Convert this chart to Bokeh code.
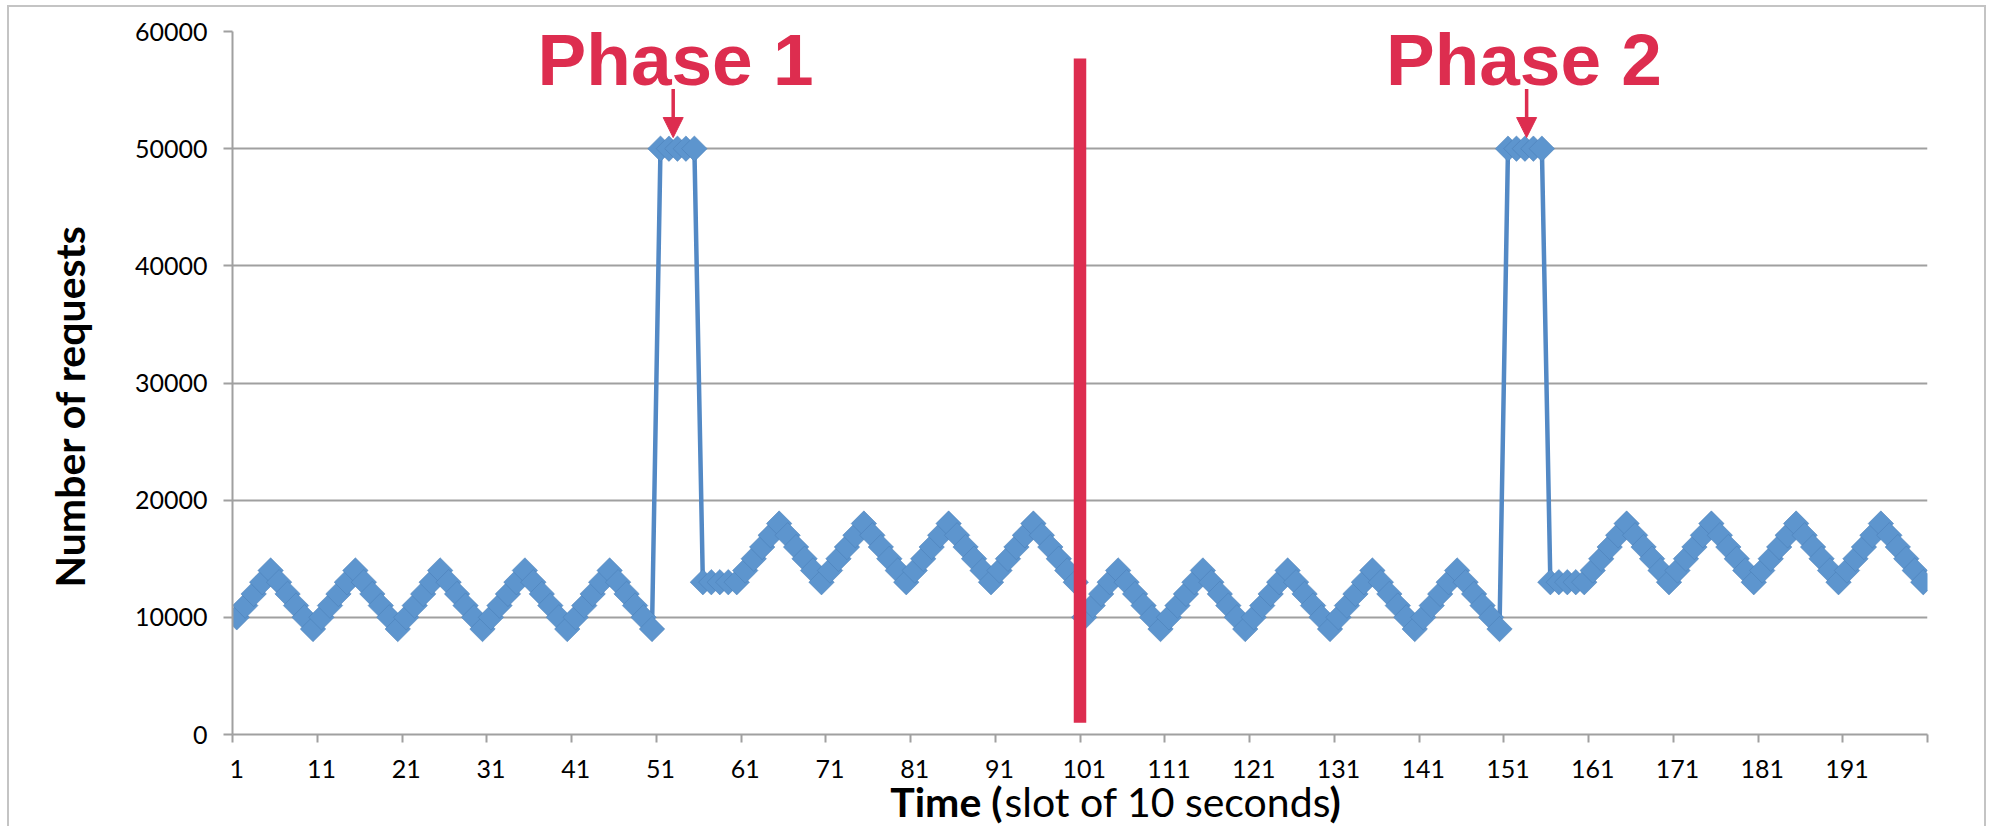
import numpy as np
from bokeh.plotting import figure
from bokeh.layouts import column
from bokeh.models import (Range1d, FixedTicker, Label, Arrow, NormalHead,
                          ColumnDataSource, Title)
from bokeh.embed import file_html
from bokeh.resources import INLINE

# ---------------- data ----------------
slots = list(range(1, 201))
requests = [
    10000, 11000, 12000, 13000, 14000, 13000, 12000, 11000, 10000, 9000,    # 1-10
    10000, 11000, 12000, 13000, 14000, 13000, 12000, 11000, 10000, 9000,    # 11-20
    10000, 11000, 12000, 13000, 14000, 13000, 12000, 11000, 10000, 9000,    # 21-30
    10000, 11000, 12000, 13000, 14000, 13000, 12000, 11000, 10000, 9000,    # 31-40
    10000, 11000, 12000, 13000, 14000, 13000, 12000, 11000, 10000, 9000,    # 41-50
    50000, 50000, 50000, 50000, 50000, 13000, 13000, 13000, 13000, 13000,   # 51-60
    14000, 15000, 16000, 17000, 18000, 17000, 16000, 15000, 14000, 13000,   # 61-70
    14000, 15000, 16000, 17000, 18000, 17000, 16000, 15000, 14000, 13000,   # 71-80
    14000, 15000, 16000, 17000, 18000, 17000, 16000, 15000, 14000, 13000,   # 81-90
    14000, 15000, 16000, 17000, 18000, 17000, 16000, 15000, 14000, 13000,   # 91-100
    10000, 11000, 12000, 13000, 14000, 13000, 12000, 11000, 10000, 9000,    # 101-110
    10000, 11000, 12000, 13000, 14000, 13000, 12000, 11000, 10000, 9000,    # 111-120
    10000, 11000, 12000, 13000, 14000, 13000, 12000, 11000, 10000, 9000,    # 121-130
    10000, 11000, 12000, 13000, 14000, 13000, 12000, 11000, 10000, 9000,    # 131-140
    10000, 11000, 12000, 13000, 14000, 13000, 12000, 11000, 10000, 9000,    # 141-150
    50000, 50000, 50000, 50000, 50000, 13000, 13000, 13000, 13000, 13000,   # 151-160
    14000, 15000, 16000, 17000, 18000, 17000, 16000, 15000, 14000, 13000,   # 161-170
    14000, 15000, 16000, 17000, 18000, 17000, 16000, 15000, 14000, 13000,   # 171-180
    14000, 15000, 16000, 17000, 18000, 17000, 16000, 15000, 14000, 13000,   # 181-190
    14000, 15000, 16000, 17000, 18000, 17000, 16000, 15000, 14000, 13000,   # 191-200
]

x_tick_slots = [1, 11, 21, 31, 41, 51, 61, 71, 81, 91,
                101, 111, 121, 131, 141, 151, 161, 171, 181, 191]
x_tick_labels = ["1", "11", "21", "31", "41", "51", "61", "71", "81", "91",
                 "101", "111", "121", "131", "141", "151", "161", "171", "181", "191"]
x_tick_marks = [0.5, 10.5, 20.5, 30.5, 40.5, 50.5, 60.5, 70.5, 80.5, 90.5, 100.5,
                110.5, 120.5, 130.5, 140.5, 150.5, 160.5, 170.5, 180.5, 190.5, 200.5]
y_ticks = [0, 10000, 20000, 30000, 40000, 50000, 60000]
y_tick_labels = ["0", "10000", "20000", "30000", "40000", "50000", "60000"]

phase_names = ["Phase 1", "Phase 2"]
phase_arrow_slots = [52.5, 153.2]

divider_slot = 100.5
divider_bottom = 1000
divider_top = 57700

y_title = "Number of requests"
x_title_parts = ["Time (", "slot of 10 seconds", ")"]

# ---------------- styles ----------------
BLUE_LINE = "#5389c5"
BLUE_MARK = "#5d95ce"
RED = "#dd2d4f"
GRID = "#a0a0a0"
FONT = "Lato"
W = 1975

p = figure(width=W, height=775, output_backend="svg", toolbar_location=None,
           x_range=Range1d(0.5, 200.5), y_range=Range1d(0, 60000),
           min_border_left=223, min_border_right=57, min_border_top=24,
           min_border_bottom=48)
p.outline_line_color = None
p.background_fill_color = "white"
p.border_fill_color = "white"

# x axis: labels centred on categories, tick marks between categories
xa = p.xaxis[0]
xa.ticker = FixedTicker(ticks=x_tick_slots, minor_ticks=x_tick_marks)
xa.major_label_overrides = {s: l for s, l in zip(x_tick_slots, x_tick_labels)}
xa.major_tick_out = 0
xa.major_tick_in = 0
xa.minor_tick_out = 8
xa.minor_tick_in = 0
xa.minor_tick_line_color = GRID
xa.minor_tick_line_width = 2
xa.axis_line_color = GRID
xa.axis_line_width = 2
xa.major_label_standoff = 17
xa.major_label_text_font = FONT
xa.major_label_text_font_size = "25px"
xa.major_label_text_color = "black"

ya = p.yaxis[0]
ya.ticker = FixedTicker(ticks=y_ticks)
ya.major_label_overrides = {t: l for t, l in zip(y_ticks, y_tick_labels)}
ya.major_tick_out = 9
ya.major_tick_in = 0
ya.major_tick_line_color = GRID
ya.major_tick_line_width = 2
ya.minor_tick_line_color = None
ya.axis_line_color = GRID
ya.axis_line_width = 2
ya.major_label_standoff = 16
ya.major_label_text_font = FONT
ya.major_label_text_font_size = "25px"
ya.major_label_text_color = "black"

p.xgrid.grid_line_color = None
p.ygrid.ticker = FixedTicker(ticks=y_ticks)
p.ygrid.grid_line_color = GRID
p.ygrid.grid_line_width = 2

# y axis title (left side panel)
p.add_layout(Title(text=y_title, align="left", vertical_align="top", offset=147,
                   standoff=71, text_font=FONT, text_font_style="bold",
                   text_font_size="41px", text_color="black"), "left")

# ---------------- series ----------------
src = ColumnDataSource(dict(slot=slots, req=requests))
p.line("slot", "req", source=src, line_color=BLUE_LINE, line_width=4.5)
p.scatter("slot", "req", source=src, marker="square", size=18, angle=np.pi / 4,
          fill_color=BLUE_MARK, line_color="#4a7db5", line_alpha=0.5, line_width=1)

# ---------------- annotations ----------------
p.segment(x0=[divider_slot], y0=[divider_bottom], x1=[divider_slot], y1=[divider_top],
          line_color=RED, line_width=12.5, line_cap="butt")

phase_text_x = [36.5, 136.6]
for name, tx, ax in zip(phase_names, phase_text_x, phase_arrow_slots):
    p.add_layout(Label(x=tx, y=57650, text=name, text_font="Liberation Sans",
                       text_font_style="bold", text_font_size="73px",
                       text_color=RED, text_baseline="alphabetic", text_align="left"))
    p.add_layout(Arrow(end=NormalHead(size=20, fill_color=RED, line_color=RED, line_width=1),
                       x_start=ax, y_start=55100, x_end=ax, y_end=50950,
                       line_color=RED, line_width=3.5))

# ---------------- x axis title strip (mixed bold / regular) ----------------
# its frame is aligned with the main plot frame, so x runs in page pixels 232..1927
t = figure(width=W, height=50, output_backend="svg", toolbar_location=None,
           x_range=Range1d(232, 1927), y_range=Range1d(0, 50), min_border=0,
           x_axis_location=None, y_axis_location=None, margin=(-6, 0, 0, 0))
t.outline_line_color = None
t.background_fill_alpha = 0
t.border_fill_alpha = 0
t.xgrid.visible = False
t.ygrid.visible = False

title_y = 25
t.add_layout(Label(x=1002, y=title_y, text=x_title_parts[0], text_font=FONT,
                   text_font_style="bold", text_font_size="41px", text_color="black",
                   text_align="right", text_baseline="alphabetic"))
t.add_layout(Label(x=1004, y=title_y, text=x_title_parts[1], text_font=FONT,
                   text_font_style="normal", text_font_size="41px", text_color="black",
                   text_align="left", text_baseline="alphabetic"))
t.add_layout(Label(x=1329, y=title_y, text=x_title_parts[2], text_font=FONT,
                   text_font_style="bold", text_font_size="41px", text_color="black",
                   text_align="left", text_baseline="alphabetic"))

layout = column(p, t, margin=(7, 0, 0, 9), spacing=0,
                styles={"outline": "2px solid #c4c4c4"})

open("out.html", "w").write(file_html(layout, INLINE))
